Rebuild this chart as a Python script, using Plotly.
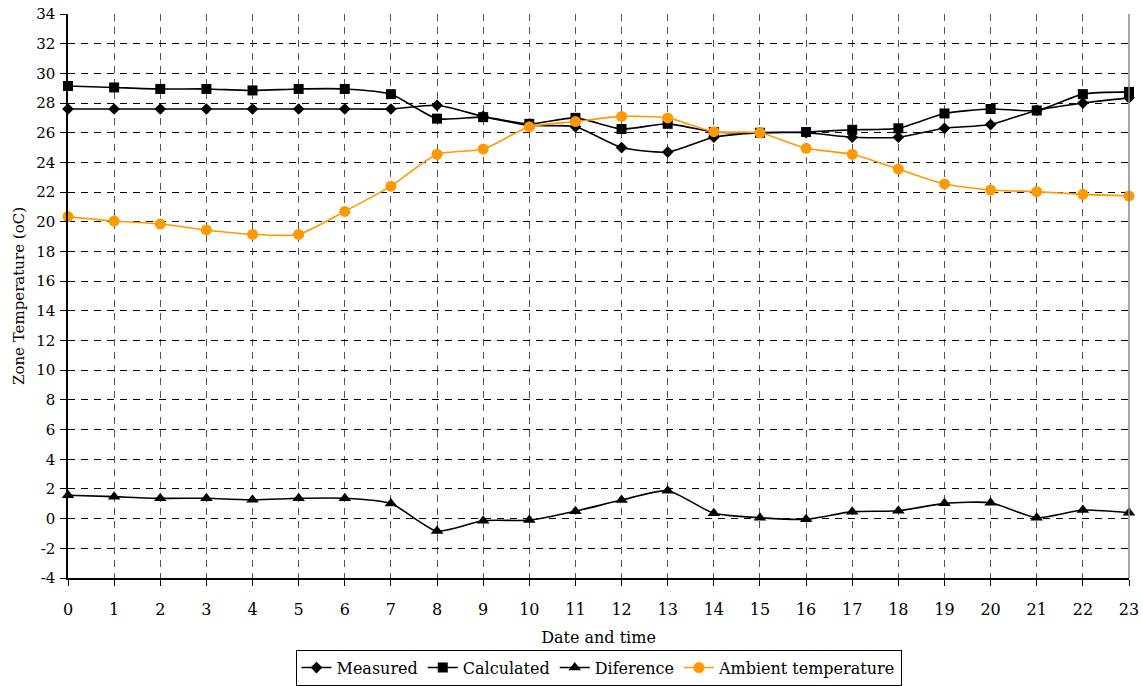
import plotly.graph_objects as go

hours = list(range(24))
measured = [27.6, 27.6, 27.6, 27.6, 27.6, 27.6, 27.6, 27.6, 27.85, 27.1, 26.5, 26.4,
            25.0, 24.7, 25.7, 26.0, 26.0, 25.7, 25.7, 26.3, 26.55, 27.5, 28.0, 28.35]
calculated = [29.15, 29.05, 28.95, 28.95, 28.85, 28.95, 28.95, 28.6, 26.95, 27.05, 26.6, 27.0,
              26.25, 26.6, 26.05, 26.0, 26.05, 26.2, 26.3, 27.3, 27.6, 27.5, 28.6, 28.75]
difference = [1.58, 1.48, 1.37, 1.37, 1.27, 1.37, 1.37, 1.02, -0.84, -0.14, -0.1, 0.5,
              1.25, 1.88, 0.36, 0.06, -0.05, 0.47, 0.53, 1.03, 1.07, 0.06, 0.58, 0.4]
ambient = [20.35, 20.05, 19.85, 19.45, 19.15, 19.15, 20.7, 22.4, 24.55, 24.9, 26.4, 26.75,
           27.1, 27.0, 26.07, 26.0, 24.95, 24.55, 23.55, 22.55, 22.14, 22.03, 21.85, 21.74]
y_ticks = list(range(-4, 35, 2))
y_tick_labels = [str(v) for v in y_ticks]  # plain hyphen minus, as in the original

FONT = "DejaVu Serif"
fig = go.Figure()

def add(name, y, color, symbol, size):
    fig.add_trace(go.Scatter(
        x=hours, y=y, name=name, mode="lines+markers",
        line=dict(color=color, width=1.6, shape="spline", smoothing=0.6),
        marker=dict(color=color, symbol=symbol, size=size),
        cliponaxis=False))

add("Measured", measured, "black", "diamond", 9)
add("Calculated", calculated, "black", "square", 10)
add("Diference", difference, "black", "triangle-up", 11)
add("Ambient temperature", ambient, "#FF9900", "circle", 11)

fig.update_layout(
    width=1143, height=686,
    margin=dict(l=68, r=14, t=14, b=108, autoexpand=False),
    plot_bgcolor="white", paper_bgcolor="white",
    font=dict(family=FONT, size=15, color="black"),
    legend=dict(orientation="h", x=0.5, xanchor="center", y=-0.127, yanchor="top",
                bordercolor="black", borderwidth=1, font=dict(size=16),
                itemwidth=30, tracegroupgap=0),
    xaxis=dict(range=[0, 23], tickmode="linear", dtick=1, showgrid=True,
               gridcolor="#555555", griddash="7px,6px", gridwidth=1,
               showline=True, linecolor="black", linewidth=1.5,
               ticks="outside", ticklen=6, tickcolor="black", ticklabelstandoff=10,
               tickfont=dict(size=16),
               automargin=False,
               title=dict(text="Date and time", font=dict(size=16), standoff=14),
               zeroline=False),
    yaxis=dict(range=[-4, 34], tickmode="array", tickvals=y_ticks, ticktext=y_tick_labels,
               showgrid=True,
               gridcolor="black", griddash="7px,6px", gridwidth=1,
               showline=True, linecolor="black", linewidth=1.5,
               ticks="outside", ticklen=6, tickcolor="black", ticklabelstandoff=2,
               tickfont=dict(size=15),
               automargin=False,
               title=dict(text="Zone Temperature (oC)", font=dict(size=15), standoff=8),
               zeroline=False),
    shapes=[dict(type="line", xref="paper", yref="paper", x0=1, x1=1, y0=0, y1=1,
                 line=dict(color="#888888", width=1.5))],
)

fig.write_html("out.html", config={"displayModeBar": False},
               post_script="document.body.style.margin='0';document.body.style.overflow='hidden';")
